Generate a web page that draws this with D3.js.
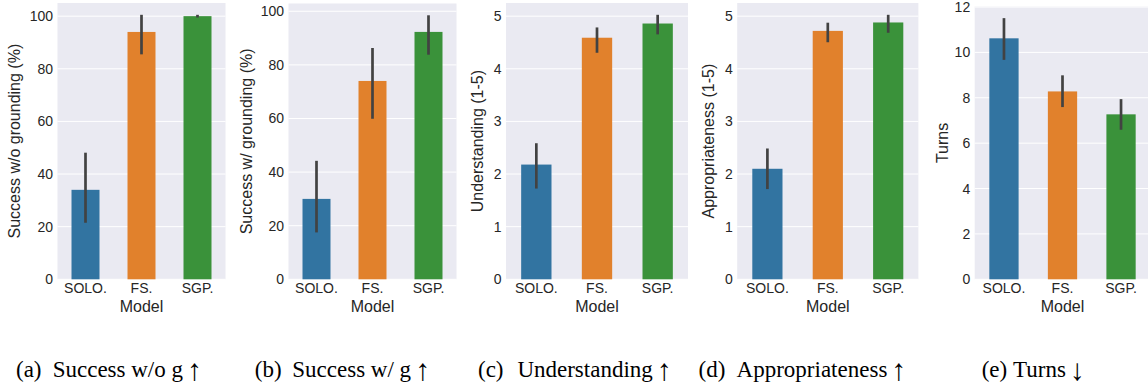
<!DOCTYPE html>
<html>
<head>
<meta charset="utf-8">
<script src="https://cdn.jsdelivr.net/npm/d3@7"></script>
<style>
  html, body { margin: 0; padding: 0; background: #ffffff; }
  svg { display: block; }
</style>
</head>
<body>
<svg id="chart" width="1148" height="389"></svg>
<script>
// ---------------- DATA ----------------
const categories = ["SOLO.", "FS.", "SGP."];

const successWoG      = [34, 94, 100];
const successWoGLow   = [22, 86, 100];
const successWoGHigh  = [47.6, 100, 100];

const successWG       = [30, 74, 92.3];
const successWGLow    = [18, 60.4, 84.3];
const successWGHigh   = [43.7, 85.8, 98];

const understanding     = [2.18, 4.59, 4.86];
const understandingLow  = [1.75, 4.33, 4.68];
const understandingHigh = [2.56, 4.76, 5.0];

const appropriateness     = [2.1, 4.72, 4.88];
const appropriatenessLow  = [1.74, 4.53, 4.71];
const appropriatenessHigh = [2.46, 4.85, 5.0];

const turns     = [10.62, 8.28, 7.27];
const turnsLow  = [9.73, 7.65, 6.65];
const turnsHigh = [11.45, 8.93, 7.88];

const yTicksPct   = [0, 20, 40, 60, 80, 100];
const yTicksScore = [0, 1, 2, 3, 4, 5];
const yTicksTurns = [0, 2, 4, 6, 8, 10, 12];

const yLabels = ["Success w/o grounding (%)", "Success w/ grounding (%)",
                 "Understanding (1-5)", "Appropriateness (1-5)", "Turns"];
const xLabel = "Model";
const captionTags = ["(a)", "(b)", "(c)", "(d)", "(e)"];
const captionTexts = ["Success w/o g", "Success w/ g", "Understanding",
                      "Appropriateness", "Turns"];
const captionArrows = ["\u2191", "\u2191", "\u2191", "\u2191", "\u2193"];

// ---------------- STYLE / LAYOUT ----------------
const colors = ["#3274a1", "#e1812c", "#3a923a"];
const bg = "#eaeaf2";
const textColor = "#262626";
const errColor = "#424242";
const sans = "'Liberation Sans', Arial, sans-serif";
const serif = "'Liberation Serif', 'Times New Roman', serif";
const axisBottomY = 279.3;
const captionY = 377;

const panels = [
  {vals: successWoG, lo: successWoGLow, hi: successWoGHigh, ticks: yTicksPct,
   left: 57.5, right: 225.5, top: 3, ylabX: 20, capTagX: 16, capX: 52.7},
  {vals: successWG, lo: successWGLow, hi: successWGHigh, ticks: yTicksPct,
   left: 288.5, right: 456.5, top: 3.5, ylabX: 251.7, capTagX: 254.8, capX: 292.3},
  {vals: understanding, lo: understandingLow, hi: understandingHigh, ticks: yTicksScore,
   left: 506, right: 688, top: 3, ylabX: 482.6, capTagX: 478, capX: 517.4},
  {vals: appropriateness, lo: appropriatenessLow, hi: appropriatenessHigh, ticks: yTicksScore,
   left: 737.2, right: 918.4, top: 3, ylabX: 714, capTagX: 698.6, capX: 736.6},
  {vals: turns, lo: turnsLow, hi: turnsHigh, ticks: yTicksTurns,
   left: 974.7, right: 1150.3, top: 6.5, ylabX: 947.5, capTagX: 981.7, capX: 1013}
];

const svg = d3.select("#chart");

panels.forEach((p, i) => {
  const ymax = d3.max(p.hi) * 1.05;
  const x = d3.scaleBand().domain(categories).range([p.left, p.right])
              .paddingInner(0.5).paddingOuter(0.25);
  const y = d3.scaleLinear().domain([0, ymax]).range([axisBottomY, p.top]);

  const g = svg.append("g");

  // background
  g.append("rect")
    .attr("x", p.left).attr("y", p.top)
    .attr("width", p.right - p.left).attr("height", axisBottomY - p.top)
    .attr("fill", bg);

  // gridlines
  g.selectAll("line.grid").data(p.ticks).join("line")
    .attr("class", "grid")
    .attr("x1", p.left).attr("x2", p.right)
    .attr("y1", d => y(d)).attr("y2", d => y(d))
    .attr("stroke", "#ffffff").attr("stroke-width", 1);

  // bars
  g.selectAll("rect.bar").data(categories).join("rect")
    .attr("class", "bar")
    .attr("x", d => x(d))
    .attr("width", x.bandwidth())
    .attr("y", (d, j) => y(p.vals[j]))
    .attr("height", (d, j) => y(0) - y(p.vals[j]))
    .attr("fill", (d, j) => colors[j]);

  // error bars
  g.selectAll("line.err").data(categories).join("line")
    .attr("class", "err")
    .attr("x1", d => x(d) + x.bandwidth() / 2)
    .attr("x2", d => x(d) + x.bandwidth() / 2)
    .attr("y1", (d, j) => y(p.lo[j]))
    .attr("y2", (d, j) => y(p.hi[j]))
    .attr("stroke", errColor).attr("stroke-width", 2.7)
    .attr("stroke-linecap", "square");

  // y axis
  const yAxis = d3.axisLeft(y).tickValues(p.ticks).tickSize(0).tickPadding(4.5)
                  .tickFormat(d3.format("d"));
  const ya = g.append("g").attr("transform", `translate(${p.left},0)`).call(yAxis);
  ya.select(".domain").remove();
  ya.selectAll("text").attr("font-family", sans).attr("font-size", 14)
    .attr("fill", textColor);

  // x axis
  const xAxis = d3.axisBottom(x).tickSize(0).tickPadding(4);
  const xa = g.append("g").attr("transform", `translate(0,${axisBottomY})`).call(xAxis);
  xa.select(".domain").remove();
  xa.selectAll("text").attr("font-family", sans).attr("font-size", 14)
    .attr("fill", textColor);

  // y label
  g.append("text")
    .attr("transform", `translate(${p.ylabX},${(p.top + axisBottomY) / 2}) rotate(-90)`)
    .attr("text-anchor", "middle")
    .attr("font-family", sans).attr("font-size", 16).attr("fill", textColor)
    .text(yLabels[i]);

  // x label
  g.append("text")
    .attr("x", (p.left + p.right) / 2).attr("y", 312)
    .attr("text-anchor", "middle")
    .attr("font-family", sans).attr("font-size", 16).attr("fill", textColor)
    .text(xLabel);

  // caption
  g.append("text")
    .attr("x", p.capTagX).attr("y", captionY)
    .attr("font-family", serif).attr("font-size", 23).attr("fill", "#000")
    .text(captionTags[i]);
  const main = g.append("text")
    .attr("x", p.capX).attr("y", captionY)
    .attr("font-family", serif).attr("font-size", 23).attr("fill", "#000")
    .text(captionTexts[i]);
  const mainEnd = p.capX + main.node().getComputedTextLength();
  g.append("text")
    .attr("x", mainEnd + 4).attr("y", captionY + 3)
    .attr("font-family", serif).attr("font-size", 30).attr("fill", "#000")
    .text(captionArrows[i]);
});
</script>
</body>
</html>
